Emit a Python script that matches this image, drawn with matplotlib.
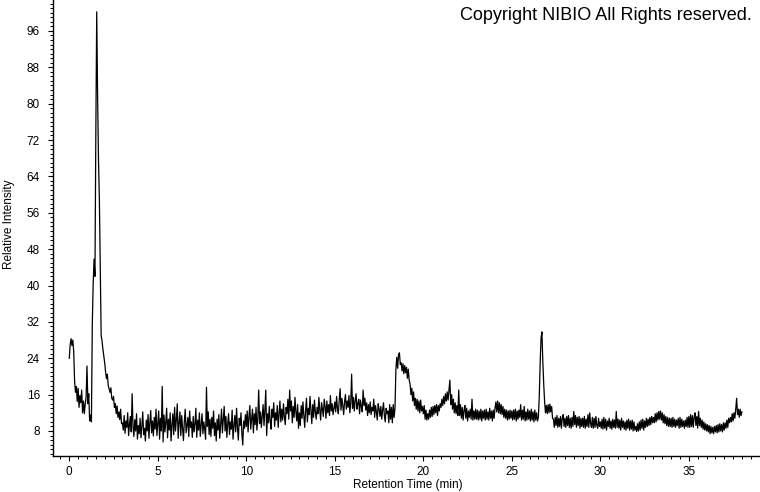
import numpy as np
import matplotlib

matplotlib.use("Agg")
from matplotlib import pyplot as plt
from matplotlib.ticker import MultipleLocator

# sampling interval of the trace (min)
rt_step = 0.05

# relative intensity, one row per minute (20 samples each)
intensity = [
    # 0
    24.0, 27.0, 28.3, 26.8, 28.0, 25.5, 19.0, 16.5, 17.8, 14.5, 17.4, 13.2, 15.8, 14.2, 17.0, 12.0, 14.6, 11.8, 13.9, 15.5,
    # 1
    22.3, 14.0, 16.2, 10.2, 11.5, 10.0, 31.5, 40.5, 45.8, 42.0, 73.8, 100.2, 81.5, 67.5, 59.0, 44.0, 29.0, 27.8, 26.0, 24.5,
    # 2
    23.0, 21.0, 19.5, 20.5, 18.0, 17.2, 16.5, 17.5, 15.2, 14.8, 15.6, 13.2, 14.0, 11.8, 13.5, 11.0, 12.2, 10.5, 12.8, 9.6,
    # 3
    9.8, 8.2, 11.4, 7.5, 10.2, 8.8, 12.0, 7.0, 9.5, 11.2, 7.8, 16.2, 9.0, 6.8, 10.5, 8.0, 11.8, 6.2, 9.2, 7.4,
    # 4
    10.8, 6.5, 9.0, 12.2, 7.2, 8.6, 5.8, 10.4, 8.0, 11.6, 6.4, 9.8, 12.5, 7.6, 10.2, 6.9, 11.0, 8.4, 12.8, 7.0,
    # 5
    9.5, 12.4, 6.2, 10.8, 8.0, 17.8, 5.6, 11.5, 7.8, 9.9, 13.0, 6.5, 10.6, 8.2, 12.0, 5.8, 9.4, 11.8, 7.2, 13.2,
    # 6
    8.0, 10.6, 14.0, 6.4, 9.8, 12.2, 7.0, 11.4, 8.6, 5.9, 10.2, 12.8, 7.6, 9.4, 11.0, 6.8, 12.4, 8.8, 10.0, 6.6,
    # 7
    11.2, 7.8, 9.6, 13.0, 6.6, 10.4, 8.2, 12.0, 6.8, 9.2, 11.8, 7.4, 10.0, 8.4, 6.2, 17.6, 9.0, 12.2, 7.2, 10.6,
    # 8
    6.8, 11.0, 8.6, 12.4, 7.0, 9.8, 5.8, 10.6, 8.2, 11.6, 6.4, 9.4, 12.8, 7.6, 10.4, 13.4, 8.0, 11.2, 6.6, 9.6,
    # 9
    11.8, 7.2, 10.0, 8.4, 12.6, 6.2, 9.0, 11.4, 7.8, 13.0, 8.8, 6.0, 10.8, 9.2, 12.0, 7.4, 4.9, 10.2, 8.6, 11.6,
    # 10
    9.0, 12.4, 7.8, 11.2, 13.6, 8.4, 10.6, 12.8, 7.6, 11.8, 9.4, 13.2, 8.2, 10.8, 17.0, 9.6, 12.2, 8.8, 11.4, 13.8,
    # 11
    9.2, 12.6, 17.0, 7.0, 11.8, 9.8, 13.4, 10.2, 8.4, 12.8, 11.0, 14.2, 9.0, 12.0, 10.4, 13.6, 8.8, 11.6, 14.6, 10.0,
    # 12
    12.8, 10.4, 14.0, 11.2, 9.4, 13.2, 11.8, 15.0, 10.6, 17.0, 12.4, 14.6, 9.8, 13.4, 11.0, 15.4, 12.2, 10.2, 13.8, 8.6,
    # 13
    12.0, 9.2, 13.6, 10.8, 14.4, 11.4, 8.8, 12.6, 15.2, 10.0, 13.0, 11.6, 15.6, 12.4, 9.6, 13.8, 11.0, 14.8, 12.2, 10.6,
    # 14
    13.2, 11.8, 15.4, 12.6, 10.4, 14.2, 12.8, 11.2, 15.0, 13.4, 10.8, 14.6, 12.0, 13.8, 11.4, 15.8, 12.4, 14.0, 11.6, 13.0,
    # 15
    14.4, 12.2, 15.6, 13.0, 11.8, 14.8, 17.3, 12.6, 15.2, 13.6, 11.6, 14.4, 16.0, 12.8, 14.6, 13.2, 15.8, 12.0, 14.2, 20.5,
    # 16
    13.0, 15.4, 12.4, 14.6, 16.2, 12.8, 14.0, 15.0, 11.8, 14.8, 13.4, 12.2, 17.0, 13.6, 15.2, 12.6, 14.2, 11.4, 13.8, 12.0,
    # 17
    14.4, 11.6, 13.2, 12.4, 15.0, 11.0, 13.6, 12.2, 10.4, 14.0, 12.8, 11.2, 13.4, 10.6, 12.6, 14.2, 11.4, 10.0, 13.0, 11.8,
    # 18
    12.4, 9.8, 13.8, 10.6, 13.2, 9.8, 13.8, 11.0, 13.0, 21.5, 24.2, 21.8, 24.8, 25.2, 22.6, 23.0, 21.2, 22.8, 20.6, 22.4,
    # 19
    20.8, 22.0, 19.6, 21.6, 19.2, 18.4, 16.0, 17.4, 14.6, 16.6, 13.6, 15.2, 12.8, 15.0, 12.4, 14.6, 12.0, 14.8, 12.4, 13.4,
    # 20
    11.8, 13.6, 10.6, 12.6, 10.4, 11.8, 10.6, 12.6, 11.0, 13.2, 11.2, 13.4, 11.6, 13.6, 12.0, 13.8, 11.4, 13.6, 12.4, 14.0,
    # 21
    13.2, 15.0, 13.6, 15.6, 14.0, 16.2, 14.6, 16.6, 14.8, 17.0, 19.2, 13.8, 16.0, 12.8, 15.0, 12.0, 14.2, 11.8, 13.6, 11.4,
    # 22
    17.0, 11.4, 13.8, 10.8, 13.2, 10.4, 12.6, 13.6, 10.8, 13.0, 10.2, 12.4, 11.0, 12.8, 10.6, 15.0, 10.4, 12.4, 10.6, 12.8,
    # 23
    10.6, 12.6, 10.4, 12.4, 10.6, 12.8, 10.2, 12.4, 10.8, 12.6, 10.4, 12.8, 10.6, 12.2, 10.4, 13.0, 10.8, 12.4, 10.2, 12.6,
    # 24
    10.8, 13.0, 14.4, 12.2, 14.6, 12.0, 14.2, 11.8, 13.8, 11.6, 13.4, 11.0, 12.8, 10.8, 12.6, 10.4, 12.4, 10.6, 12.6, 10.8,
    # 25
    12.4, 10.4, 12.6, 10.6, 12.8, 10.2, 12.4, 10.6, 12.6, 11.0, 13.8, 10.4, 12.6, 10.6, 13.4, 10.2, 12.2, 10.4, 12.8, 10.6,
    # 26
    12.4, 10.2, 12.8, 10.4, 12.2, 10.0, 12.6, 10.4, 12.0, 10.2, 11.0, 15.5, 22.8, 28.4, 29.8, 23.4, 18.5, 14.6, 12.0, 13.6,
    # 27
    11.8, 13.8, 12.0, 13.9, 12.2, 13.4, 10.8, 10.6, 8.8, 11.0, 9.2, 11.4, 8.8, 10.8, 9.0, 11.2, 8.6, 10.8, 11.6, 9.0,
    # 28
    10.8, 8.8, 11.2, 9.2, 11.4, 8.8, 10.8, 8.6, 11.0, 9.0, 12.3, 9.4, 11.4, 8.8, 11.0, 9.2, 11.2, 8.6, 10.8, 9.0,
    # 29
    10.8, 8.8, 11.2, 8.6, 10.6, 9.0, 11.6, 8.8, 12.0, 9.6, 8.8, 11.0, 8.6, 10.8, 8.8, 11.2, 9.2, 8.6, 10.8, 9.0,
    # 30
    10.0, 8.6, 10.6, 8.4, 11.0, 8.6, 10.6, 8.2, 10.2, 9.0, 10.8, 8.6, 10.2, 8.4, 10.6, 8.8, 10.4, 8.6, 12.3, 8.8,
    # 31
    10.6, 8.6, 10.4, 8.2, 10.8, 8.8, 10.2, 8.4, 10.0, 8.2, 10.4, 8.6, 10.6, 8.2, 10.2, 8.4, 10.4, 8.0, 10.0, 8.2,
    # 32
    9.0, 7.9, 9.6, 8.0, 10.0, 8.2, 10.4, 8.6, 10.6, 8.2, 10.2, 8.8, 10.8, 9.0, 10.6, 9.2, 11.0, 9.4, 11.2, 9.8,
    # 33
    11.0, 9.8, 11.8, 10.0, 12.0, 10.4, 12.3, 10.6, 12.4, 10.4, 12.0, 9.8, 11.6, 9.6, 11.2, 9.2, 11.0, 9.0, 10.8, 9.0,
    # 34
    10.8, 8.8, 11.0, 9.0, 10.6, 8.8, 10.4, 9.2, 10.8, 8.6, 11.0, 8.8, 10.6, 9.0, 10.2, 8.6, 10.4, 9.0, 11.0, 8.8,
    # 35
    11.2, 8.8, 11.6, 9.0, 11.4, 8.8, 11.0, 12.0, 9.2, 11.2, 8.6, 12.3, 9.2, 10.8, 8.8, 10.4, 8.4, 10.0, 8.2, 9.6,
    # 36
    8.0, 9.4, 7.8, 9.2, 7.4, 9.0, 7.6, 8.8, 7.4, 9.0, 7.8, 9.2, 7.6, 9.4, 7.8, 9.6, 8.0, 9.4, 7.8, 9.8,
    # 37
    8.2, 9.8, 8.6, 10.4, 8.8, 10.8, 9.8, 11.0, 10.0, 11.8, 10.2, 12.0, 10.8, 12.8, 15.2, 11.6, 12.8, 11.0, 12.8, 11.4,
    # 38
    12.2,
]
retention_time = np.round(np.arange(len(intensity)) * rt_step, 2)

y_ticks = [8, 16, 24, 32, 40, 48, 56, 64, 72, 80, 88, 96]
x_ticks = [0, 5, 10, 15, 20, 25, 30, 35]

plt.rcParams["font.family"] = ["Liberation Sans", "DejaVu Sans"]

fig = plt.figure(figsize=(7.6, 4.92), dpi=100)
ax = fig.add_axes([53 / 760, 36 / 492, 707 / 760, 456 / 492])

ax.plot(retention_time, intensity, color="black", linewidth=0.9)

ax.set_xlim(-0.92, 39.02)
ax.set_ylim(2.5, 102.8)
ax.set_xticks(x_ticks)
ax.set_yticks(y_ticks)
ax.xaxis.set_minor_locator(MultipleLocator(0.5))
ax.yaxis.set_minor_locator(MultipleLocator(1))

for side in ("top", "right"):
    ax.spines[side].set_visible(False)
for side in ("left", "bottom"):
    ax.spines[side].set_linewidth(1.0)

ax.tick_params(axis="both", which="major", direction="out", length=3.5, width=0.8,
               labelsize=8.5, colors="black")
ax.tick_params(axis="both", which="minor", direction="out", length=2, width=0.7)
ax.tick_params(axis="y", which="major", pad=6)
ax.tick_params(axis="x", which="major", pad=4)

fig.text(408 / 760, 1 - 485 / 492, "Retention Time (min)", ha="center", va="center", fontsize=8.5)
fig.text(9 / 760, 1 - 224 / 492, "Relative Intensity", ha="center", va="center",
         rotation=90, fontsize=8.5)
fig.text(752 / 760, 1 - 20 / 492, "Copyright NIBIO All Rights reserved.", ha="right",
         va="baseline", fontsize=13)

fig.savefig("out.png", dpi=100)
